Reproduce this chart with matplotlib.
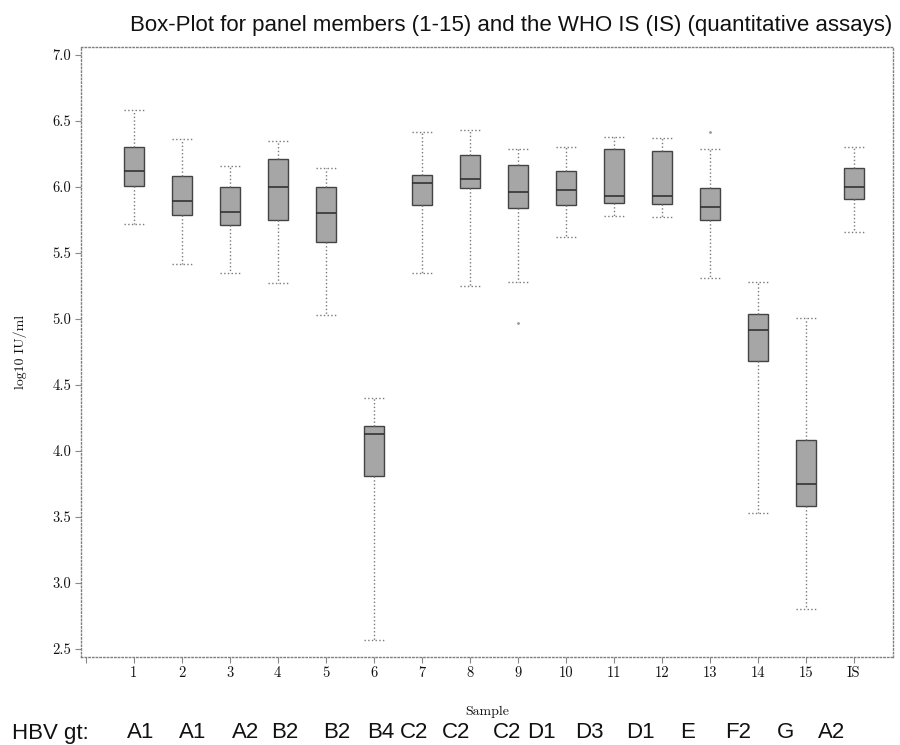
import matplotlib
matplotlib.use("Agg")
import matplotlib.pyplot as plt

# ---- data ----
samples = ["1", "2", "3", "4", "5", "6", "7", "8", "9", "10", "11", "12", "13", "14", "15", "IS"]
whislo = [5.72, 5.42, 5.35, 5.27, 5.03, 2.57, 5.35, 5.25, 5.28, 5.62, 5.78, 5.77, 5.31, 3.53, 2.80, 5.66]
q1     = [6.01, 5.79, 5.71, 5.75, 5.58, 3.81, 5.86, 5.99, 5.84, 5.86, 5.88, 5.87, 5.75, 4.68, 3.58, 5.91]
med    = [6.12, 5.89, 5.81, 6.00, 5.80, 4.13, 6.03, 6.06, 5.96, 5.98, 5.93, 5.93, 5.85, 4.92, 3.75, 6.00]
q3     = [6.30, 6.08, 6.00, 6.21, 6.00, 4.19, 6.09, 6.24, 6.17, 6.12, 6.29, 6.27, 5.99, 5.04, 4.08, 6.14]
whishi = [6.58, 6.36, 6.16, 6.35, 6.14, 4.40, 6.42, 6.43, 6.29, 6.30, 6.38, 6.37, 6.29, 5.28, 5.01, 6.30]
fliers = [[], [], [], [], [], [], [], [], [4.97], [], [], [], [6.42], [], [], []]

hbv_gt = ["A1", "A1", "A2", "B2", "B2", "B4", "C2", "C2", "C2", "D1", "D3", "D1", "E", "F2", "G", "A2"]
hbv_px = [141, 193, 246, 285, 337, 381, 414, 456, 507, 541, 589, 640, 688, 738, 785, 832]

title = "Box-Plot for panel members (1-15) and the WHO IS (IS) (quantitative assays)"

W, H = 900, 745
fig = plt.figure(figsize=(W / 100, H / 100), dpi=100)
ax = fig.add_axes([81 / W, 1 - 657 / H, (893 - 81) / W, (657 - 47) / H])

stats = []
for i in range(len(samples)):
    stats.append(dict(label=samples[i], whislo=whislo[i], q1=q1[i], med=med[i],
                      q3=q3[i], whishi=whishi[i], fliers=fliers[i]))

positions = list(range(1, len(samples) + 1))
ax.bxp(stats, positions=positions, widths=0.42, capwidths=0.42, patch_artist=True,
       boxprops=dict(facecolor="#a6a6a6", edgecolor="#444444", linewidth=1.0),
       medianprops=dict(color="#333333", linewidth=1.2),
       whiskerprops=dict(color="#7a7a7a", linestyle=":", linewidth=1.0),
       capprops=dict(color="#7a7a7a", linestyle=":", linewidth=1.0),
       flierprops=dict(marker=".", markersize=2, markerfacecolor="#999999",
                       markeredgecolor="#999999"))

ax.set_xlim(-0.1, 16.82)
ax.set_ylim(2.44, 7.06)
ax.set_xticks([0] + positions)
ax.set_xticklabels([""] + samples)
ax.set_yticks([2.5, 3.0, 3.5, 4.0, 4.5, 5.0, 5.5, 6.0, 6.5, 7.0])
ax.set_yticklabels(["2.5", "3.0", "3.5", "4.0", "4.5", "5.0", "5.5", "6.0", "6.5", "7.0"])

serif = ["cmr10", "DejaVu Serif"]
for lab in ax.get_xticklabels() + ax.get_yticklabels():
    lab.set_family(serif)
    lab.set_fontsize(10.5)
    lab.set_color("#111111")
ax.tick_params(axis="both", direction="out", length=4, width=0.8, color="#888888", pad=3)

for sp in ax.spines.values():
    sp.set_linestyle(":")
    sp.set_color("#808080")
    sp.set_linewidth(1.0)

ax.set_xlabel("Sample", family=serif, fontsize=10, labelpad=18, color="#111111")
ax.set_ylabel("log10 IU/ml", family=serif, fontsize=10, labelpad=18, color="#111111")

fig.text(511 / W, 1 - 25 / H, title, ha="center", va="center",
         family="Liberation Sans", fontsize=16, color="#111111")

fig.text(12 / W, 1 - 733 / H, "HBV gt:", ha="left", va="center",
         family="Liberation Sans", fontsize=16, color="#111111")
for lbl, px in zip(hbv_gt, hbv_px):
    fig.text(px / W, 1 - 733 / H, lbl, ha="center", va="center",
             family="Liberation Sans", fontsize=16, color="#111111")

fig.savefig("out.png", dpi=100)
